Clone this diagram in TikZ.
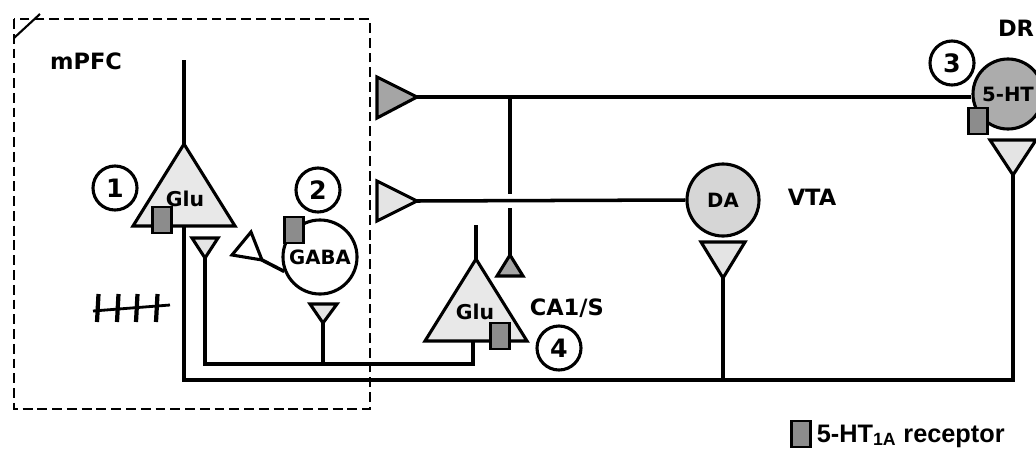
\documentclass[tikz,border=0pt]{standalone}
\usepackage{fontspec}
\setmainfont{DejaVu Sans}
\newfontfamily\legendfont{Liberation Sans}
\usepackage{xcolor}
\definecolor{glufill}{RGB}{232,232,232}
\definecolor{htfill}{RGB}{172,172,172}
\definecolor{dafill}{RGB}{214,214,214}
\definecolor{recfill}{RGB}{140,140,140}
\definecolor{darkterm}{RGB}{165,165,165}
\definecolor{lightterm}{RGB}{228,228,228}

\begin{document}
\begin{tikzpicture}[
  x=0.025cm, y=-0.025cm, line width=2.5pt, line join=miter,
  numcirc/.style={circle, draw, line width=2.2pt, minimum size=1.1cm,
    inner sep=0pt, font=\fontsize{18}{18}\selectfont\bfseries},
  cell/.style={circle, draw, line width=2.2pt, inner sep=0pt,
    font=\fontsize{14}{14}\selectfont\bfseries},
  celltext/.style={inner sep=0pt, font=\fontsize{14.5}{14.5}\selectfont\bfseries},
  region/.style={inner sep=0pt, font=\fontsize{16}{16}\selectfont\bfseries},
  receptor/.style={draw, fill=recfill, line width=1.6pt, inner sep=0pt,
    minimum width=0.47cm, minimum height=0.64cm},
  term/.style={draw, line width=2.2pt}
]
\useasboundingbox (0,0) rectangle (1036,448);
\clip (0,0) rectangle (1036,448);

%% ── mPFC box ─────────────────────────────────────────────────────────────────
\draw[line width=1.7pt, dash pattern=on 7pt off 3.5pt] (14,19) rectangle (370,409);
\draw[line width=1.5pt] (14,38) -- (40,14);
\node[region] (mpfc) at (86,61) {mPFC};

%% ── Pyramidal cell 1 ─────────────────────────────────────────────────────────
\coordinate (glu1top) at (184,144);
\coordinate (glu1den) at (184,60);
\coordinate (glu1ax)  at (184,226);
\draw (glu1top) -- (glu1den);
\draw[term, fill=glufill] (glu1top) -- (133,226) -- (235,226) -- cycle;
\node[celltext] (glu1) at (185,199) {Glu};
\node[receptor] (rec1) at (162,220) {};
\node[numcirc] (n1) at (115,188) {1};

%% terminal below cell 1
\coordinate (t1tip) at (205,258);
\draw[term, fill=lightterm] (192,238) -- (218,238) -- (t1tip) -- cycle;

%% ── GABA interneuron ─────────────────────────────────────────────────────────
\node[cell, minimum size=1.85cm] (gaba) at (320,257) {GABA};
\node[receptor] (rec2) at (294,230) {};
\node[numcirc] (n2) at (318,190) {2};
\coordinate (gtip) at (262,260);
\draw (gaba.202) -- (gtip);
\draw[term, fill=white] (232,255) -- (251,232) -- (gtip) -- cycle;
\coordinate (t2tip) at (323,323);
\draw[term, fill=lightterm] (310,304) -- (337,304) -- (t2tip) -- cycle;

%% spike train
\draw[line width=2pt] (93,311) -- (170,305);
\foreach \x in {98,118,137,157}
  \draw[line width=3pt] (\x-1,322) -- (\x+0.5,294);

%% ── Pyramidal cell CA1/S ─────────────────────────────────────────────────────
\coordinate (ca1top) at (476,259);
\coordinate (ca1den) at (476,225);
\coordinate (ca1ax)  at (473,341);
\draw (ca1top) -- (ca1den);
\draw[term, fill=glufill] (ca1top) -- (425,341) -- (527,341) -- cycle;
\node[celltext] (glu2) at (475,312) {Glu};
\node[receptor] (rec4) at (500,336) {};
\node[region, anchor=west] (ca1) at (528,308) {CA1/S};
\node[numcirc] (n4) at (559,348) {4};

%% ── DR and VTA ───────────────────────────────────────────────────────────────
\node[cell, fill=htfill, minimum size=1.75cm] (ht) at (1008,94) {5-HT};
\node[receptor] (rec3) at (978,121) {};
\node[numcirc] (n3) at (952,63) {3};
\node[region] (dr) at (1016,28) {DR};

\node[cell, fill=dafill, minimum size=1.8cm] (da) at (723,200) {DA};
\node[region] (vta) at (812,197) {VTA};

%% ── Afferent terminals in mPFC ───────────────────────────────────────────────
\coordinate (httip) at (417,97);
\coordinate (datip) at (417,201);
\draw[term, fill=darkterm]  (377,77)  -- (377,118) -- (httip) -- cycle;
\draw[term, fill=lightterm] (377,181) -- (377,221) -- (datip) -- cycle;
\draw (httip) -- (httip -| ht.west);
\draw (datip) -- (da.west);

%% branch to CA1/S
\coordinate (br)    at (510,97);
\coordinate (jump)  at (510,201);
\coordinate (ca1tm) at (510,255);
\draw (br) -- ([yshift=0.18cm]jump);
\draw ([yshift=-0.18cm]jump) -- (ca1tm);
\draw[term, fill=darkterm] (ca1tm) -- (497,276) -- (523,276) -- cycle;

%% ── Output terminals and return fibres ───────────────────────────────────────
\coordinate (vtatip) at (723,278);
\coordinate (drtip)  at (1013,175);
\draw[term, fill=lightterm] (701,242) -- (745,242) -- (vtatip) -- cycle;
\draw[term, fill=lightterm] (990,140) -- (1036,140) -- (drtip) -- cycle;

\coordinate (bus)  at (1013,380);
\coordinate (loop) at (473,364);
\draw (glu1ax) |- (bus) -- (drtip);
\draw (vtatip) -- (vtatip |- bus);
\draw (t1tip) |- (loop) -- (ca1ax);
\draw (t2tip) -- (t2tip |- loop);

%% ── Legend ───────────────────────────────────────────────────────────────────
\node[receptor] (legsq) at (801,434) {};
\node[anchor=base west, inner sep=0pt,
  font=\legendfont\fontsize{18}{18}\selectfont\bfseries] (leg) at (815,442)
  {5-HT\textsubscript{1A} receptor};

\end{tikzpicture}
\end{document}
